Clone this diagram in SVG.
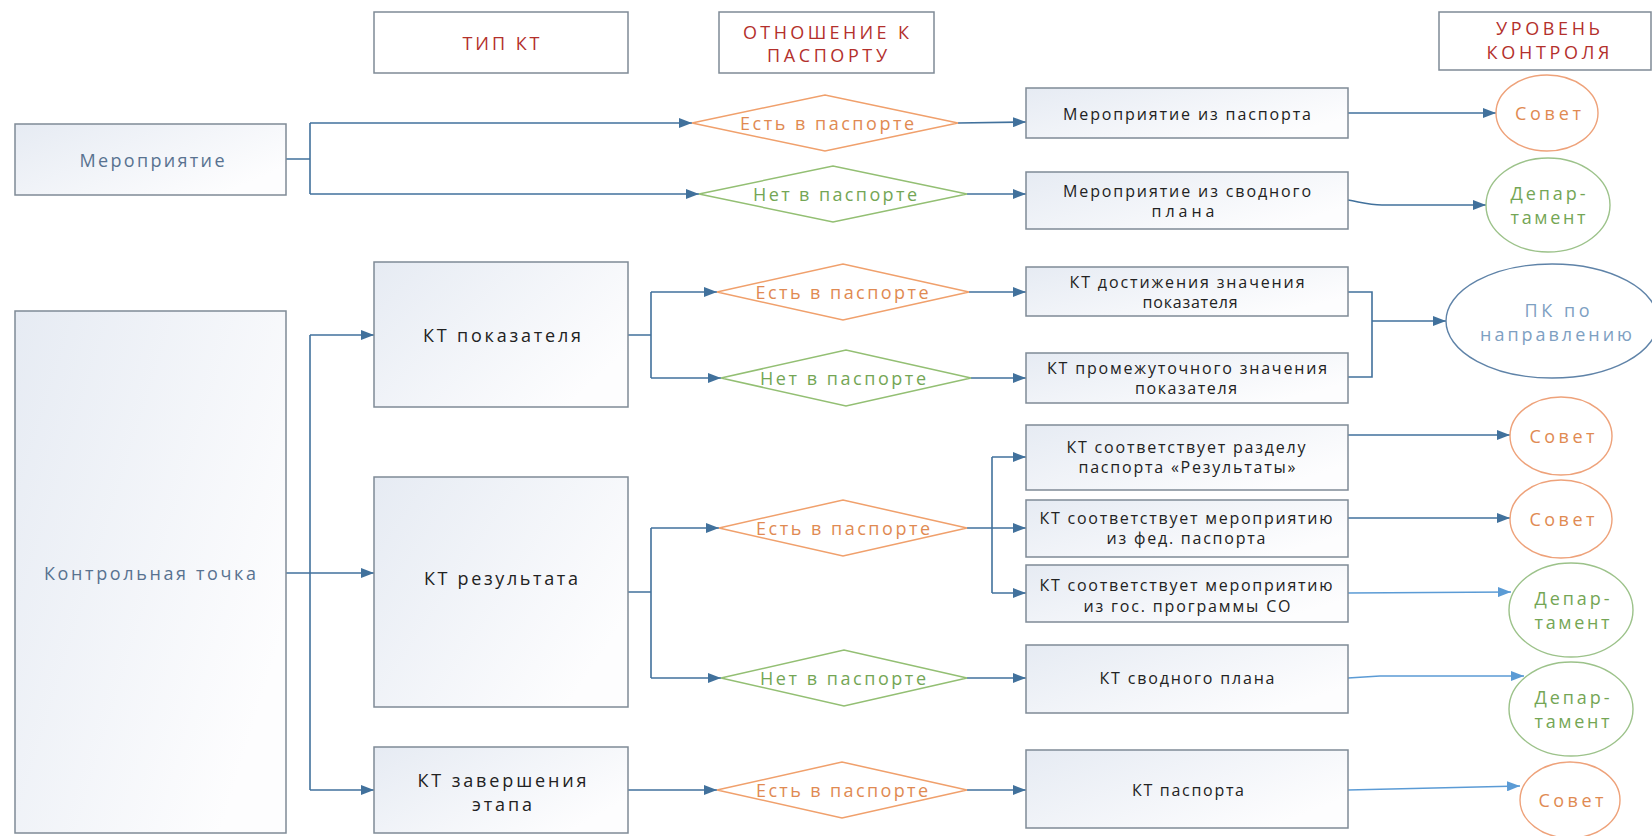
<svg xmlns="http://www.w3.org/2000/svg" width="1652" height="836" viewBox="0 0 1652 836">
<style>
.box{fill:url(#gb);stroke:#7f8a96;stroke-width:1.5}
.hdr{fill:#fff;stroke:#7f8a96;stroke-width:1.5}
.dor{fill:#fff;stroke:#f0a06c;stroke-width:1.5}
.dgr{fill:#fff;stroke:#93bf73;stroke-width:1.5}
.cor{fill:#fff;stroke:#eea27a;stroke-width:1.4}
.cgr{fill:#fff;stroke:#9cc28a;stroke-width:1.4}
.cbl{fill:#fff;stroke:#5f83a8;stroke-width:1.4}
.ln{fill:none;stroke:#41719c;stroke-width:1.6}
.ar{fill:none;stroke:#41719c;stroke-width:1.6;marker-end:url(#ah)}
.arl{fill:none;stroke:#5b9bd5;stroke-width:1.6;marker-end:url(#ahl)}
text{font-family:"Open Sans","DejaVu Sans",sans-serif;dominant-baseline:central;text-anchor:middle}
.t{font-size:16px;fill:#222}
.tm{font-size:18px;fill:#222}
.tl{font-size:18px;fill:#587290}
.th{font-size:18px;fill:#b3302c}
.to{font-size:18px;fill:#e08a52}
.tg{font-size:18px;fill:#74a655}
.tb{font-size:18px;fill:#7ea0c2}
</style>
<defs>
<linearGradient id="gb" x1="0" y1="0" x2="1" y2="0.6">
<stop offset="0" stop-color="#e6ebf3"/>
<stop offset="1" stop-color="#fdfdfe"/>
</linearGradient>
<marker id="ah" markerUnits="userSpaceOnUse" markerWidth="14" markerHeight="10" refX="13" refY="5" orient="auto">
<path d="M0,0 L13,5 L0,10 z" fill="#41719c"/>
</marker>
<marker id="ahl" markerUnits="userSpaceOnUse" markerWidth="14" markerHeight="10" refX="13" refY="5" orient="auto">
<path d="M0,0 L13,5 L0,10 z" fill="#5b9bd5"/>
</marker>
</defs>
<rect width="1652" height="836" fill="#fff"/>

<g id="connectors">
<path class="ln" d="M286,159 H310 M310,123 V194"/>
<path class="ar" d="M310,123 H692"/>
<path class="ar" d="M310,194 H699"/>
<path class="ar" d="M958,123 L1026,122"/>
<path class="ar" d="M967,194 H1026"/>
<path class="ar" d="M1348,113 H1496"/>
<path class="ar" d="M1348,200 C1364,203 1370,205 1382,205 H1486"/>
<path class="ln" d="M310,335 V790"/>
<path class="ar" d="M286,573 H374"/>
<path class="ar" d="M310,335 H374"/>
<path class="ar" d="M310,790 H374"/>
<path class="ln" d="M628,335 H651 M651,292 V378"/>
<path class="ar" d="M651,292 H717"/>
<path class="ar" d="M651,378 H721"/>
<path class="ar" d="M969,292 H1026"/>
<path class="ar" d="M971,378 H1026"/>
<path class="ln" d="M1348,292 H1372 V377 H1348"/>
<path class="ar" d="M1372,321 H1446"/>
<path class="ln" d="M628,592 H651 M651,528 V678"/>
<path class="ar" d="M651,528 H719"/>
<path class="ar" d="M651,678 H721"/>
<path class="ar" d="M967,528 H1026"/>
<path class="ln" d="M992,457 V593"/>
<path class="ar" d="M992,457 H1026"/>
<path class="ar" d="M992,593 H1026"/>
<path class="ar" d="M967,678 H1026"/>
<path class="ar" d="M628,790 H717"/>
<path class="ar" d="M967,790 H1026"/>
<path class="ar" d="M1348,435 H1510"/>
<path class="ar" d="M1348,518 H1510"/>
<path class="arl" d="M1348,593 L1511,592"/>
<path class="arl" d="M1348,678 L1380,676 H1524"/>
<path class="arl" d="M1348,790 L1520,786"/>
</g>

<g id="h-type"><rect class="hdr" x="374" y="12" width="254" height="61"/><text class="th" x="501" y="43" textLength="77">ТИП КТ</text></g>
<g id="h-rel"><rect class="hdr" x="719" y="12" width="215" height="61"/><text class="th" x="826" y="32" textLength="166">ОТНОШЕНИЕ К</text><text class="th" x="827" y="55" textLength="120">ПАСПОРТУ</text></g>
<g id="h-level"><rect class="hdr" x="1439" y="12" width="212" height="58"/><text class="th" x="1548" y="28" textLength="104">УРОВЕНЬ</text><text class="th" x="1548" y="52" textLength="123">КОНТРОЛЯ</text></g>

<g id="n-event"><rect class="box" x="15" y="124" width="271" height="71"/><text class="tl" x="152" y="160" textLength="145">Мероприятие</text></g>
<g id="n-cp"><rect class="box" x="15" y="311" width="271" height="522"/><text class="tl" x="150" y="573" textLength="212">Контрольная точка</text></g>

<g id="n-kt-ind"><rect class="box" x="374" y="262" width="254" height="145"/><text class="tm" x="502" y="335" textLength="158">КТ показателя</text></g>
<g id="n-kt-res"><rect class="box" x="374" y="477" width="254" height="230"/><text class="tm" x="501" y="578" textLength="154">КТ результата</text></g>
<g id="n-kt-stage"><rect class="box" x="374" y="747" width="254" height="86"/><text class="tm" x="502" y="780" textLength="169">КТ завершения</text><text class="tm" x="502" y="804" textLength="60">этапа</text></g>

<g id="d1"><polygon class="dor" points="692,123 825,95 958,123 825,151"/><text class="to" x="827" y="123" textLength="174">Есть в паспорте</text></g>
<g id="d2"><polygon class="dgr" points="699,194 833,166 967,194 833,222"/><text class="tg" x="835" y="194" textLength="164">Нет в паспорте</text></g>
<g id="d3"><polygon class="dor" points="717,292 843,264 969,292 843,320"/><text class="to" x="842" y="292" textLength="173">Есть в паспорте</text></g>
<g id="d4"><polygon class="dgr" points="721,378 846,350 971,378 846,406"/><text class="tg" x="843" y="378" textLength="166">Нет в паспорте</text></g>
<g id="d5"><polygon class="dor" points="719,528 843,500 967,528 843,556"/><text class="to" x="843" y="528" textLength="174">Есть в паспорте</text></g>
<g id="d6"><polygon class="dgr" points="721,678 844,650 967,678 844,706"/><text class="tg" x="843" y="678" textLength="166">Нет в паспорте</text></g>
<g id="d7"><polygon class="dor" points="717,790 842,762 967,790 842,818"/><text class="to" x="842" y="790" textLength="172">Есть в паспорте</text></g>

<g id="r1"><rect class="box" x="1026" y="88" width="322" height="50"/><text class="t" x="1187" y="114" textLength="248">Мероприятие из паспорта</text></g>
<g id="r2"><rect class="box" x="1026" y="172" width="322" height="57"/><text class="t" x="1187" y="191" textLength="248">Мероприятие из сводного</text><text class="t" x="1183" y="211" textLength="63">плана</text></g>
<g id="r3"><rect class="box" x="1026" y="267" width="322" height="49"/><text class="t" x="1187" y="282" textLength="235">КТ достижения значения</text><text class="t" x="1190" y="302" textLength="95">показателя</text></g>
<g id="r4"><rect class="box" x="1026" y="353" width="322" height="50"/><text class="t" x="1187" y="368" textLength="280">КТ промежуточного значения</text><text class="t" x="1186" y="388" textLength="102">показателя</text></g>
<g id="r5"><rect class="box" x="1026" y="425" width="322" height="65"/><text class="t" x="1186" y="447" textLength="239">КТ соответствует разделу</text><text class="t" x="1187" y="467" textLength="217">паспорта «Результаты»</text></g>
<g id="r6"><rect class="box" x="1026" y="500" width="322" height="57"/><text class="t" x="1186" y="518" textLength="293">КТ соответствует мероприятию</text><text class="t" x="1186" y="538" textLength="159">из фед. паспорта</text></g>
<g id="r7"><rect class="box" x="1026" y="565" width="322" height="57"/><text class="t" x="1186" y="585" textLength="293">КТ соответствует мероприятию</text><text class="t" x="1187" y="606" textLength="207">из гос. программы СО</text></g>
<g id="r8"><rect class="box" x="1026" y="645" width="322" height="68"/><text class="t" x="1187" y="678" textLength="175">КТ сводного плана</text></g>
<g id="r9"><rect class="box" x="1026" y="750" width="322" height="78"/><text class="t" x="1188" y="790" textLength="112">КТ паспорта</text></g>

<g id="c1"><ellipse class="cor" cx="1547" cy="113" rx="51" ry="38"/><text class="to" x="1548" y="113" textLength="66">Совет</text></g>
<g id="c2"><ellipse class="cgr" cx="1548" cy="205" rx="62" ry="47"/><text class="tg" x="1548" y="193" textLength="75">Депар-</text><text class="tg" x="1548" y="217" textLength="75">тамент</text></g>
<g id="c-pk"><ellipse class="cbl" cx="1552" cy="321" rx="106" ry="57"/><text class="tb" x="1557" y="310" textLength="65">ПК по</text><text class="tb" x="1556" y="334" textLength="152">направлению</text></g>
<g id="c3"><ellipse class="cor" cx="1561" cy="436" rx="51" ry="39"/><text class="to" x="1562" y="436" textLength="65">Совет</text></g>
<g id="c4"><ellipse class="cor" cx="1561" cy="519" rx="51" ry="39"/><text class="to" x="1562" y="519" textLength="65">Совет</text></g>
<g id="c5"><ellipse class="cgr" cx="1571" cy="610" rx="62" ry="47"/><text class="tg" x="1572" y="598" textLength="75">Депар-</text><text class="tg" x="1572" y="622" textLength="75">тамент</text></g>
<g id="c6"><ellipse class="cgr" cx="1571" cy="709" rx="62" ry="47"/><text class="tg" x="1572" y="697" textLength="75">Депар-</text><text class="tg" x="1572" y="721" textLength="75">тамент</text></g>
<g id="c7"><ellipse class="cor" cx="1570" cy="800" rx="50" ry="38"/><text class="to" x="1571" y="800" textLength="65">Совет</text></g>
</svg>
